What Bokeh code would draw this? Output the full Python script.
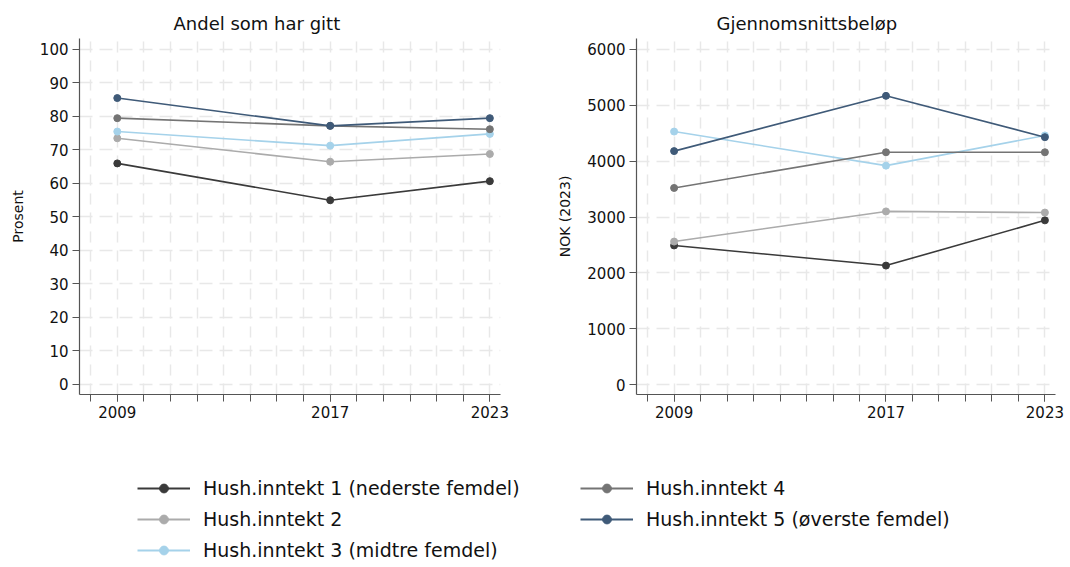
from bokeh.plotting import figure
from bokeh.models import Range1d, FixedTicker, Legend, LegendItem, Title
from bokeh.layouts import column, row
from bokeh.embed import file_html
from bokeh.resources import INLINE

# ---------------- data ----------------
years = [2009, 2017, 2023]
all_years = list(range(2008, 2024))

series_names = [
    "Hush.inntekt 1 (nederste femdel)",
    "Hush.inntekt 2",
    "Hush.inntekt 3 (midtre femdel)",
    "Hush.inntekt 4",
    "Hush.inntekt 5 (øverste femdel)",
]
series_colors = ["#3a3a3a", "#ababab", "#a5d2ea", "#747474", "#3f5a78"]

# Andel som har gitt (prosent)
andel_1 = [66.0, 55.0, 60.7]
andel_2 = [73.5, 66.5, 68.8]
andel_3 = [75.5, 71.3, 74.8]
andel_4 = [79.5, 77.2, 76.2]
andel_5 = [85.5, 77.2, 79.5]

# Gjennomsnittsbeløp (NOK 2023)
belop_1 = [2490, 2130, 2940]
belop_2 = [2560, 3100, 3080]
belop_3 = [4530, 3920, 4460]
belop_4 = [3520, 4160, 4160]
belop_5 = [4180, 5170, 4430]

andel_ticks = list(range(0, 101, 10))
belop_ticks = list(range(0, 6001, 1000))

FONT = "DejaVu Sans"
AXIS_COLOR = "#555555"
GRID_COLOR = "#e8e8e8"


def make_panel(title, ylabel, series, y_start, y_end, yticks, width, b_left, b_right, t_offset):
    p = figure(width=width, height=440, output_backend="svg", toolbar_location=None,
               x_range=Range1d(2007.58, 2023.4), y_range=Range1d(y_start, y_end),
               min_border_left=b_left, min_border_right=b_right,
               min_border_top=38, min_border_bottom=46,
               background_fill_color="white", border_fill_color="white")
    p.outline_line_color = None
    p.title = Title(text=title, align="left", offset=t_offset, text_font=FONT,
                    text_font_size="18px", text_font_style="normal", text_color="#111111",
                    standoff=10)

    # axes
    p.xaxis.ticker = FixedTicker(ticks=years, minor_ticks=all_years)
    p.yaxis.ticker = FixedTicker(ticks=yticks)
    for ax in (p.xaxis[0], p.yaxis[0]):
        ax.axis_line_color = AXIS_COLOR
        ax.axis_line_width = 1.2
        ax.major_tick_line_color = AXIS_COLOR
        ax.major_tick_in = 0
        ax.major_tick_out = 7
        ax.major_label_text_font = FONT
        ax.major_label_text_font_size = "15px"
        ax.major_label_text_color = "#111111"
        ax.major_label_standoff = 4
    p.xaxis.minor_tick_line_color = AXIS_COLOR
    p.xaxis.minor_tick_in = 0
    p.xaxis.minor_tick_out = 7
    p.yaxis.minor_tick_line_color = None
    p.yaxis.axis_label = ylabel
    p.yaxis.axis_label_text_font = FONT
    p.yaxis.axis_label_text_font_size = "14px"
    p.yaxis.axis_label_text_font_style = "normal"
    p.yaxis.axis_label_text_color = "#111111"
    p.yaxis.axis_label_standoff = 11

    # grid
    p.xgrid.ticker = FixedTicker(ticks=all_years)
    p.xgrid.grid_line_color = GRID_COLOR
    p.xgrid.grid_line_width = 1.5
    p.xgrid.grid_line_dash = "11 8"
    p.ygrid.ticker = FixedTicker(ticks=yticks)
    p.ygrid.grid_line_color = GRID_COLOR
    p.ygrid.grid_line_width = 1.5
    p.ygrid.grid_line_dash = "13 7"

    for vals, color in zip(series, series_colors):
        p.line(years, vals, line_color=color, line_width=1.6)
        p.scatter(years, vals, size=7, fill_color=color, line_color=color)
    return p


p1 = make_panel("Andel som har gitt", "Prosent",
                [andel_1, andel_2, andel_3, andel_4, andel_5],
                -2.985, 103.28, andel_ticks, 540, 79, 40, 94)
p2 = make_panel("Gjennomsnittsbeløp", "NOK (2023)",
                [belop_1, belop_2, belop_3, belop_4, belop_5],
                -179, 6197, belop_ticks, 530, 96, 15, 80)

# ---------------- legend ----------------
lg = figure(width=1070, height=127, output_backend="svg", toolbar_location=None,
            x_range=Range1d(0, 1), y_range=Range1d(0, 1),
            x_axis_location=None, y_axis_location=None, min_border=0,
            background_fill_color="white", border_fill_color="white")
lg.outline_line_color = None
lg.grid.visible = False

nan = float("nan")
items = []
for name, color in zip(series_names, series_colors):
    r1 = lg.line(x=[nan], y=[nan], line_color=color, line_width=2)
    r2 = lg.scatter(x=[nan], y=[nan], size=8, fill_color=color, line_color=color)
    items.append(LegendItem(label=name, renderers=[r1, r2]))


def make_legend(its, loc):
    return Legend(items=its, location=loc, orientation="vertical",
                  glyph_width=53, glyph_height=22, label_height=22,
                  label_standoff=13, spacing=9, padding=0, margin=0,
                  border_line_alpha=0, background_fill_alpha=0,
                  label_text_font=FONT, label_text_font_size="19px",
                  label_text_color="#111111")


lg.add_layout(make_legend(items[:3], (137, 6)))
lg.add_layout(make_legend(items[3:], (580, 37)))

layout = column(row(p1, p2), lg)
open("out.html", "w").write(file_html(layout, INLINE))
